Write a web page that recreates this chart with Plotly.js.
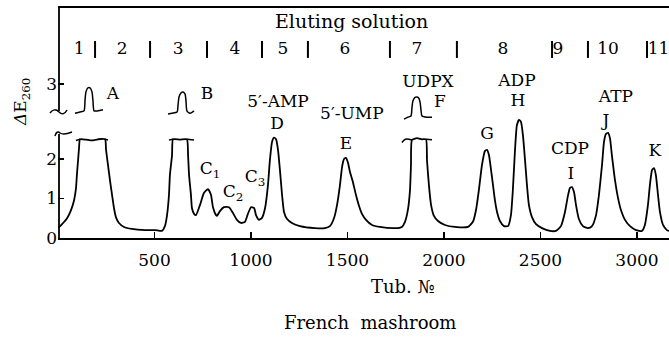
<!DOCTYPE html>
<html>
<head>
<meta charset="utf-8">
<script src="https://cdn.plot.ly/plotly-3.0.1.min.js"></script>
<style>html,body{margin:0;padding:0;background:#fff;}#chart{width:669px;height:337px;}</style>
</head>
<body>
<div id="chart"></div>
<script>
// Main elution profile (tube number vs ΔE260, lower scale)
const tubes = [0,21,47,67,83,93,98,104,109,114,145,176,207,244,249,259,269,280,290,300,316,342,383,451,503,539,554,565,575,580,591,596,632,668,674,679,689,694,705,715,736,756,777,793,803,819,824,839,860,886,907,927,948,969,984,1000,1016,1026,1041,1057,1073,1088,1098,1109,1119,1130,1140,1150,1161,1171,1187,1212,1254,1332,1383,1409,1430,1446,1461,1472,1482,1492,1503,1513,1528,1544,1560,1575,1596,1627,1668,1746,1782,1798,1813,1824,1829,1834,1860,1886,1907,1912,1922,1933,1948,1969,2005,2057,2124,2150,2166,2181,2197,2212,2223,2233,2244,2254,2264,2275,2290,2311,2332,2347,2357,2368,2378,2389,2399,2409,2420,2430,2440,2456,2477,2508,2549,2580,2606,2627,2642,2653,2663,2674,2684,2699,2720,2746,2767,2788,2803,2819,2829,2839,2850,2860,2870,2886,2902,2917,2938,2964,2995,3026,3041,3057,3067,3078,3088,3098,3109,3119,3135,3155,3166];
const absorbance = [0.25,0.35,0.5,0.7,0.95,1.25,1.6,1.97,2.28,2.5,2.49,2.47,2.5,2.5,2.23,1.85,1.47,1.09,0.76,0.53,0.38,0.28,0.23,0.2,0.2,0.18,0.3,0.58,1.09,1.6,2.1,2.5,2.49,2.5,2.1,1.6,1.09,0.76,0.61,0.58,0.84,1.14,1.24,1.09,0.78,0.58,0.56,0.68,0.78,0.78,0.63,0.46,0.38,0.41,0.61,0.78,0.76,0.58,0.46,0.51,0.76,1.34,1.97,2.43,2.54,2.5,2.23,1.72,1.09,0.66,0.48,0.38,0.3,0.25,0.25,0.3,0.5,0.84,1.34,1.8,2.0,2.03,1.9,1.67,1.42,1.09,0.81,0.61,0.46,0.33,0.28,0.25,0.28,0.41,0.71,1.22,1.85,2.48,2.53,2.5,2.5,1.97,1.34,0.84,0.56,0.43,0.33,0.28,0.28,0.41,0.71,1.22,1.85,2.2,2.23,2.1,1.72,1.34,0.96,0.66,0.43,0.3,0.3,0.58,1.22,2.23,2.86,2.99,2.94,2.61,1.97,1.34,0.84,0.53,0.35,0.25,0.18,0.18,0.3,0.66,1.06,1.27,1.29,1.16,0.84,0.48,0.3,0.25,0.3,0.58,1.09,1.85,2.43,2.63,2.66,2.53,2.1,1.47,1.01,0.71,0.46,0.3,0.2,0.18,0.33,0.84,1.34,1.72,1.77,1.59,1.09,0.66,0.33,0.2,0.18];

// Break marks across off-scale peak tops (A, B, F)
const breakX = [93,114,null,244,259,null,575,596,null,668,705,null,1782,1800,1834,null,1907,1938];
const breakY = [2.47,2.5,null,2.5,2.48,null,2.48,2.5,null,2.5,2.48,null,2.42,2.5,2.48,null,2.5,2.49];

// Off-scale peak tops on the upper (broken) scale
const topAX = [88,114,135,140,145,155,166,176,181,187,207,233];
const topAY = [3.16,3.19,3.22,3.49,3.70,3.80,3.80,3.70,3.49,3.22,3.22,3.25];
const topBX = [570,591,617,622,627,637,648,658,663,668,684,705];
const topBY = [3.14,3.16,3.19,3.37,3.57,3.67,3.70,3.65,3.49,3.22,3.16,3.22];
const topFX = [1793,1813,1829,1834,1839,1850,1860,1870,1876,1881,1886,1912,1938];
const topFY = [3.01,3.06,3.09,3.29,3.47,3.56,3.57,3.54,3.44,3.24,3.09,3.06,3.06];

// Eluting solutions
const solutionBounds = [192,477,772,1057,1295,1720,2067,2560,2746,3052];
const solutionLabels = ['1','2','3','4','5','6','7','8','9','10','11'];
const solutionLabelX = [109,332,622,917,1166,1487,1860,2306,2591,2850,3112];

// Peak labels
const peakText = ['A','B','UDPX','F','5′-AMP','D','5′-UMP','E','C<sub>1</sub>','C<sub>2</sub>','C<sub>3</sub>','G','ADP','H','CDP','I','ATP','J','K'];
const peakX = [285,772,1917,1979,1140,1135,1523,1492,788,907,1021,2223,2378,2383,2653,2658,2891,2839,3093];
const peakY = [3.62,3.62,3.92,3.42,3.42,2.86,3.11,2.35,1.72,1.14,1.52,2.61,3.95,3.44,2.23,1.59,3.54,2.94,2.18];

// Tick labels
const xTickVals = [500,1000,1500,2000,2500,3000];
const yTickVals = [0,1,2,3.9];
const yTickText = ['0','1','2','3'];

const FONT = 'DejaVu Serif, Liberation Serif, serif';
const L = 58, W = 611, B = 238, H = 231;
const px = v => (v - L) / W;
const py = v => (B - v) / H;

const bx = [], by = [];
solutionBounds.forEach(b => { bx.push(b, b, null); by.push(4.56, 4.99, null); });

const traces = [
  {x:tubes, y:absorbance, mode:'lines', line:{color:'#000', width:1.8, shape:'spline', smoothing:0.5}, hoverinfo:'skip'},
  {x:breakX, y:breakY, mode:'lines', line:{color:'#000', width:1.5, shape:'spline'}, hoverinfo:'skip'},
  {x:topAX, y:topAY, mode:'lines', line:{color:'#000', width:1.5, shape:'spline', smoothing:0.6}, hoverinfo:'skip'},
  {x:topBX, y:topBY, mode:'lines', line:{color:'#000', width:1.5, shape:'spline', smoothing:0.6}, hoverinfo:'skip'},
  {x:topFX, y:topFY, mode:'lines', line:{color:'#000', width:1.5, shape:'spline', smoothing:0.6}, hoverinfo:'skip'},
  {x:bx, y:by, mode:'lines', line:{color:'#000', width:2}, hoverinfo:'skip'},
  {x:solutionLabelX, y:solutionLabelX.map(()=>4.76), mode:'text', text:solutionLabels, textposition:'middle center', textfont:{family:FONT, size:17, color:'#000'}, cliponaxis:false, hoverinfo:'skip'},
  {x:peakX, y:peakY, mode:'text', text:peakText, textposition:'middle center', textfont:{family:FONT, size:17, color:'#000'}, cliponaxis:false, hoverinfo:'skip'}
];

const shapes = [
  {type:'line', xref:'paper', yref:'paper', x0:0, x1:1, y0:1, y1:1, line:{color:'#000', width:2}},
  {type:'line', xref:'paper', yref:'paper', x0:px(59), x1:px(59), y0:1, y1:py(111), line:{color:'#000', width:1.8}},
  {type:'line', xref:'paper', yref:'paper', x0:px(59), x1:px(59), y0:py(134), y1:0, line:{color:'#000', width:1.8}},
  {type:'path', xref:'paper', yref:'paper', path:`M ${px(50)},${py(113)} C ${px(53)},${py(109)} ${px(56)},${py(109)} ${px(59)},${py(112)} C ${px(62)},${py(115)} ${px(65)},${py(114)} ${px(67)},${py(110)}`, line:{color:'#000', width:1.5}},
  {type:'path', xref:'paper', yref:'paper', path:`M ${px(55)},${py(136)} C ${px(56)},${py(132)} ${px(58)},${py(131)} ${px(60)},${py(133)} C ${px(63)},${py(135)} ${px(67)},${py(134)} ${px(72)},${py(132)}`, line:{color:'#000', width:1.5}}
];

const ann = (text, x, y, size, extra) => Object.assign({text, xref:'paper', yref:'paper', x:px(x), y:py(y), xanchor:'center', yanchor:'middle', showarrow:false, font:{family:FONT, size, color:'#000'}}, extra || {});
const annotations = [
  ann('Eluting solution', 351, 21, 19),
  ann('<i>Δ</i>E<sub>260</sub>', 22, 102, 17, {textangle:-90}),
  ann('Tub. №', 403, 286, 18),
  ann('French  mashroom', 370, 323, 18)
];

const layout = {
  width:669, height:337,
  margin:{l:58, r:0, t:7, b:99},
  paper_bgcolor:'#fff', plot_bgcolor:'#fff',
  showlegend:false,
  font:{family:FONT, size:17, color:'#000'},
  xaxis:{range:[0,3166], showgrid:false, zeroline:false, showline:true, linecolor:'#000', linewidth:2,
         ticks:'inside', ticklen:6, tickwidth:1.5, tickcolor:'#000', tickvals:xTickVals,
         tickfont:{family:FONT, size:17, color:'#000'}, ticklabelstandoff:6},
  yaxis:{range:[0,5.85], showgrid:false, zeroline:false, showline:false,
         ticks:'inside', ticklen:6, tickwidth:1.5, tickcolor:'#000', tickvals:yTickVals, ticktext:yTickText,
         tickfont:{family:FONT, size:17, color:'#000'}},
  shapes:shapes,
  annotations:annotations
};

Plotly.newPlot('chart', traces, layout, {staticPlot:true, displayModeBar:false});
</script>
</body>
</html>
